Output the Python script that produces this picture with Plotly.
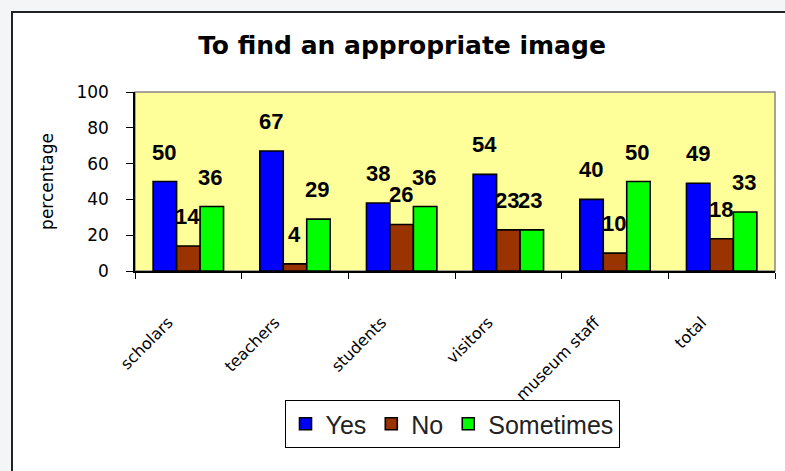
import plotly.graph_objects as go

categories = ["scholars", "teachers", "students", "visitors", "museum staff", "total"]
yes_vals = [50, 67, 38, 54, 40, 49]
no_vals = [14, 4, 26, 23, 10, 18]
sometimes_vals = [36, 29, 36, 23, 50, 33]
series_names = ["Yes", "No", "Sometimes"]
series_colors = ["#0000FF", "#993300", "#00FF00"]
y_ticks = [0, 20, 40, 60, 80, 100]

W, H = 785, 471
L, R, T, B = 135, 10, 92, 200
pw, ph = W - L - R, H - T - B

def px_x(p):
    return (p - L) / pw

def px_y(p):
    return (H - B - p) / ph

fig = go.Figure()
all_vals = [yes_vals, no_vals, sometimes_vals]
for name, vals, col in zip(series_names, all_vals, series_colors):
    fig.add_trace(go.Bar(
        x=categories, y=vals, name=name,
        marker=dict(color=col, line=dict(color="black", width=1.6)),
    ))

annotations = []
offsets = [-24, -1, 22]
for vals, dx in zip(all_vals, offsets):
    for c, v in zip(categories, vals):
        annotations.append(dict(
            x=c, y=v, xref="x", yref="y", text=str(v), showarrow=False,
            xshift=dx, yshift=15, yanchor="bottom",
            font=dict(family="Arial", size=22, color="black", weight="bold"),
        ))

shapes = [
    # outer chart frame
    dict(type="rect", xref="paper", yref="paper", layer="below",
         x0=px_x(12), x1=px_x(800), y0=px_y(490), y1=px_y(12),
         fillcolor="white", line=dict(color="#222222", width=2)),
    # plot area fill
    dict(type="rect", xref="paper", yref="paper", layer="below",
         x0=0, x1=1, y0=0, y1=1, fillcolor="#FFFF99",
         line=dict(color="#888888", width=1.5)),
]

fig.update_layout(
    width=W, height=H, autosize=False,
    margin=dict(l=L, r=R, t=T, b=B, pad=0),
    paper_bgcolor="#F4F5F7",
    plot_bgcolor="rgba(0,0,0,0)",
    barmode="group", bargap=0.34, bargroupgap=0,
    title=dict(text="To find an appropriate image", x=402 / W, xanchor="center",
               y=1 - 45 / H, yanchor="middle",
               font=dict(family="DejaVu Sans", size=25, color="black", weight="bold")),
    showlegend=True,
    legend=dict(orientation="h", x=px_x(452), xanchor="center", y=px_y(400), yanchor="top",
                bgcolor="white", bordercolor="black", borderwidth=1,
                font=dict(family="Arial", size=25, color="#222222"),
                itemwidth=30, traceorder="normal"),
    annotations=annotations,
    shapes=shapes,
    font=dict(family="DejaVu Sans", color="black"),
)

fig.update_xaxes(
    type="category", showline=True, linecolor="black", linewidth=1.5,
    ticks="outside", ticklen=6, tickcolor="black", tickson="boundaries",
    tickangle=-45, tickfont=dict(family="DejaVu Sans", size=16, color="black"),
    ticklabelstandoff=34, ticklabelshift=-20, showgrid=False, zeroline=False,
)
fig.update_yaxes(
    range=[0, 100], tickvals=y_ticks, showline=True, linecolor="black", linewidth=1.5,
    ticks="outside", ticklen=7, tickcolor="black",
    tickfont=dict(family="DejaVu Sans", size=17, color="black"),
    ticklabelstandoff=14, showgrid=False, zeroline=False,
    title=dict(text="percentage", standoff=18,
               font=dict(family="DejaVu Sans", size=17, color="black")),
)

fig.write_html("out.html")
